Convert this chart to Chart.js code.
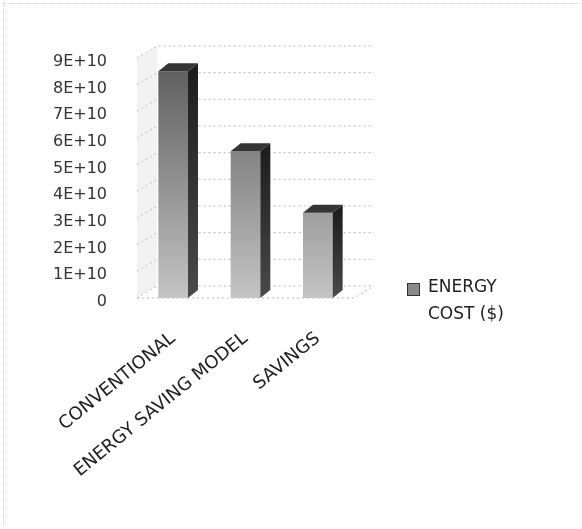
<!DOCTYPE html>
<html><head><meta charset="utf-8">
<script src="https://cdn.jsdelivr.net/npm/chart.js@4.4.0/dist/chart.umd.min.js"></script>
<style>
html,body{margin:0;padding:0;background:#fff;}
#wrap{position:relative;width:582px;height:529px;overflow:hidden;background:#fff;}
#c{position:absolute;left:0;top:0;}
#frameTop{position:absolute;left:4px;top:3px;width:575px;height:0;border-top:1px dotted #d0d0d0;}
#frameLeft{position:absolute;left:3px;top:3px;width:0;height:522px;border-left:1px dotted #d0d0d0;}
#legend{position:absolute;left:407px;top:273px;font-family:"DejaVu Sans",sans-serif;font-size:17px;color:#222;}
#legend .box{position:absolute;left:0;top:10px;width:11px;height:11px;background:#8a8a8a;border:1px solid #333;}
#legend .txt{position:absolute;left:21px;top:0;line-height:27px;white-space:nowrap;}
</style></head><body>
<div id="wrap">
<canvas id="c" width="582" height="529"></canvas>
<div id="frameTop"></div><div id="frameLeft"></div>
<div id="legend"><span class="box"></span><span class="txt">ENERGY<br>COST ($)</span></div>
</div>
<script>
const categories = ['CONVENTIONAL', 'ENERGY SAVING MODEL', 'SAVINGS'];
const energyCost = [8.5e10, 5.5e10, 3.2e10];
const seriesName = 'ENERGY COST ($)';
const yTickValues = [0, 1e10, 2e10, 3e10, 4e10, 5e10, 6e10, 7e10, 8e10, 9e10];

const WDX = 20, WDY = -12;   // back wall offset
const BDX = 10, BDY = -8;    // bar depth

const depth3d = {
  id: 'depth3d',
  beforeDatasetsDraw(chart) {
    const {ctx, chartArea: a, scales: {y}} = chart;
    ctx.save();
    ctx.fillStyle = 'rgba(0,0,0,0.05)';
    ctx.beginPath();
    ctx.moveTo(a.left, a.bottom);
    ctx.lineTo(a.left + WDX, a.bottom + WDY);
    ctx.lineTo(a.left + WDX, a.top + WDY);
    ctx.lineTo(a.left, a.top);
    ctx.closePath();
    ctx.fill();
    ctx.setLineDash([2, 3]);
    ctx.strokeStyle = '#b8b8b8';
    ctx.lineWidth = 1;
    yTickValues.forEach(v => {
      const p = y.getPixelForValue(v);
      ctx.beginPath();
      ctx.moveTo(a.left, p);
      ctx.lineTo(a.left + WDX, p + WDY);
      ctx.lineTo(a.right + WDX, p + WDY);
      ctx.stroke();
    });
    ctx.beginPath();
    ctx.moveTo(a.left, a.bottom);
    ctx.lineTo(a.right, a.bottom);
    ctx.lineTo(a.right + WDX, a.bottom + WDY);
    ctx.stroke();
    ctx.restore();
  },
  afterDatasetsDraw(chart) {
    const {ctx} = chart;
    const meta = chart.getDatasetMeta(0);
    ctx.save();
    meta.data.forEach(bar => {
      const {x, y, base, width} = bar.getProps(['x', 'y', 'base', 'width'], true);
      const l = x - width / 2, r = x + width / 2;
      ctx.fillStyle = '#353535';
      ctx.beginPath();
      ctx.moveTo(l, y); ctx.lineTo(l + BDX, y + BDY); ctx.lineTo(r + BDX, y + BDY); ctx.lineTo(r, y);
      ctx.closePath(); ctx.fill();
      const g = ctx.createLinearGradient(0, y, 0, base);
      g.addColorStop(0, '#1e1e1e'); g.addColorStop(1, '#4a4a4a');
      ctx.fillStyle = g;
      ctx.beginPath();
      ctx.moveTo(r, y); ctx.lineTo(r + BDX, y + BDY); ctx.lineTo(r + BDX, base + BDY); ctx.lineTo(r, base);
      ctx.closePath(); ctx.fill();
    });
    ctx.restore();
  }
};

new Chart(document.getElementById('c'), {
  type: 'bar',
  data: {
    labels: categories,
    datasets: [{
      label: seriesName,
      data: energyCost,
      backgroundColor: (c) => {
        const a = c.chart.chartArea;
        if (!a) return '#888';
        const g = c.chart.ctx.createLinearGradient(0, a.top, 0, a.bottom);
        g.addColorStop(0, '#5a5a5a');
        g.addColorStop(1, '#c4c4c4');
        return g;
      },
      borderWidth: 0,
      categoryPercentage: 1,
      barPercentage: 0.41
    }]
  },
  options: {
    responsive: false,
    animation: false,
    devicePixelRatio: 1,
    layout: {padding: {top: 58, right: 228, bottom: 0, left: 0}},
    plugins: {legend: {display: false}, tooltip: {enabled: false}},
    scales: {
      x: {
        grid: {display: false, drawTicks: false},
        border: {display: false},
        ticks: {
          minRotation: 39, maxRotation: 39, padding: 30,
          color: '#222',
          font: {family: 'DejaVu Sans', size: 18}
        },
        afterFit(s) { s.height = 231; }
      },
      y: {
        min: 0, max: 9e10,
        afterBuildTicks(s) { s.ticks = yTickValues.map(v => ({value: v})); },
        grid: {display: false, drawTicks: false},
        border: {display: false},
        ticks: {
          padding: 30, labelOffset: 4,
          color: '#333',
          font: {family: 'DejaVu Sans', size: 16},
          callback: (v) => v === 0 ? '0' : (v / 1e10) + 'E+10'
        },
        afterFit(s) { s.width = 137; }
      }
    }
  },
  plugins: [depth3d]
});
</script>
</body></html>
